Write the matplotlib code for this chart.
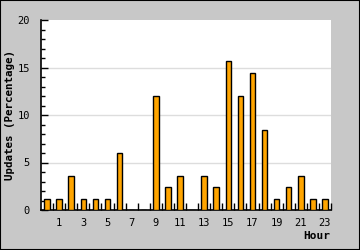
import matplotlib.pyplot as plt
from matplotlib.patches import Rectangle

# Updates per hour of day (percentage)
horas = list(range(24))
updates = [1.2, 1.2, 3.6, 1.2, 1.2, 1.2, 6.0, 0, 0, 12.0, 2.4, 3.6,
           0, 3.6, 2.4, 15.7, 12.0, 14.4, 8.4, 1.2, 2.4, 3.6, 1.2, 1.2]
rotulos_x = [str(h) for h in horas if h % 2 == 1]
posicoes_x = [h for h in horas if h % 2 == 1]

plt.rcParams['font.family'] = 'DejaVu Sans Mono'

fig = plt.figure(figsize=(3.6, 2.5), dpi=100)
fig.patch.set_facecolor('#c8c8c8')
fig.patches.append(Rectangle((0, 0), 1, 1, transform=fig.transFigure,
                             fill=False, edgecolor='black', lw=1.5))

ax = fig.add_axes([41 / 360, 40 / 250, 290 / 360, 190 / 250])
ax.set_facecolor('white')

ax.bar(horas, updates, width=0.45, color='#ffa500', edgecolor='black',
       linewidth=1, zorder=3)

ax.set_xlim(-0.5, 23.5)
ax.set_ylim(0, 20)

# grade horizontal
for y in [5, 10, 15]:
    ax.axhline(y, color='#dddddd', lw=1, zorder=1)

ax.set_yticks([0, 5, 10, 15, 20])
ax.set_yticks(range(0, 21), minor=True)
ax.set_xticks(posicoes_x)
ax.set_xticklabels(rotulos_x)
ax.set_xticks([h + 0.5 for h in horas], minor=True)

ax.tick_params(axis='y', which='major', direction='in', length=5, width=1,
               labelsize=7.5, pad=8)
ax.tick_params(axis='y', which='minor', direction='in', length=3, width=1)
ax.tick_params(axis='x', which='major', length=0, labelsize=7.5, pad=6)
ax.tick_params(axis='x', which='minor', direction='in', length=5, width=1)

for lado in ['top', 'right']:
    ax.spines[lado].set_visible(False)
for lado in ['left', 'bottom']:
    ax.spines[lado].set_linewidth(1.2)

ax.set_ylabel('Updates (Percentage)', fontsize=7.8, fontweight='bold')
ax.yaxis.set_label_coords(-26 / 290, 0.5)
fig.text(330 / 360, 14 / 250, 'Hour', fontsize=8, fontweight='bold',
         ha='right', va='center')

plt.savefig('out.png', dpi=100, facecolor=fig.get_facecolor())
